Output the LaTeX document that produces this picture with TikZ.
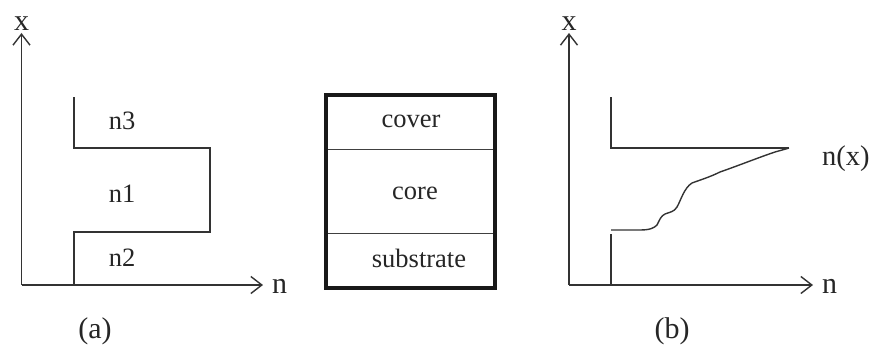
\documentclass[tikz,border=0pt]{standalone}
\usepackage{fontspec}
\setmainfont{Liberation Serif}
\usetikzlibrary{arrows.meta}
\begin{document}
\begin{tikzpicture}[x=1pt,y=-1pt,
  axis/.style={line width=1.4pt,color=black!80,-{Straight Barb[length=11pt,width=17pt,line width=1.4pt]}},
  prof/.style={line width=1.4pt,color=black!80},
  lay/.style={font=\fontsize{26.5}{30}\selectfont,inner sep=0pt,text=black!85},
  axl/.style={font=\fontsize{30}{34}\selectfont,inner sep=0pt,text=black!85},
  thinline/.style={line width=0.9pt,color=black!75},
  boxline/.style={line width=3.5pt,color=black!90}]
\useasboundingbox (0,0) rectangle (880,345);
% panel (a)
\coordinate (aO) at (21.5,285);
\coordinate (aY) at (21.5,33);
\coordinate (aX) at (263,285);
\draw[axis] (aO) -- (aY);
\draw[axis] (aO) -- (aX);
\node[axl,anchor=south] (ax) at (21.5,31) {x};
\node[axl,anchor=west] (an) at (272,286) {n};
\draw[prof] (74,97) -- (74,148) -- (210,148) -- (210,232) -- (74,232) -- (74,285);
\node[lay] (n3) at (122,121) {n3};
\node[lay] (n1) at (122,194) {n1};
\node[lay] (n2) at (122,258) {n2};
\node[axl] (la) at (95,331) {(a)};
% box
\draw[thinline] (326,149) -- (495,149);
\draw[thinline] (326,233) -- (495,233);
\draw[boxline] (326,95) rectangle (495,288);
\node[lay] (cover) at (411,121) {cover};
\node[lay] (core) at (415,193) {core};
\node[lay] (sub) at (419,258) {substrate};
% panel (b)
\coordinate (bO) at (569,285);
\coordinate (bY) at (569,33);
\coordinate (bX) at (813,285);
\draw[axis] (bO) -- (bY);
\draw[axis] (bO) -- (bX);
\node[axl,anchor=south] (bx) at (569,31) {x};
\node[axl,anchor=west] (bn) at (822,286) {n};
\draw[prof] (611,97) -- (611,148) -- (789,148);
\draw[prof] (611,285) -- (611,234);
\draw[prof] (611,230) -- (640,230)
  .. controls (650,230) and (654,228) .. (657,225)
  .. controls (660,219) and (661,216) .. (665,214)
  .. controls (670,212) and (674,212) .. (677,207)
  .. controls (681,200) and (684,188) .. (692,183)
  .. controls (700,180) and (710,177) .. (720,172)
  .. controls (740,165) and (760,157) .. (775,152)
  .. controls (782,150) and (786,149) .. (789,148);
\node[axl,anchor=west,font=\fontsize{28.5}{32}\selectfont] (nx) at (822,159) {n(x)};
\node[axl] (lb) at (672,331) {(b)};
\end{tikzpicture}
\end{document}
